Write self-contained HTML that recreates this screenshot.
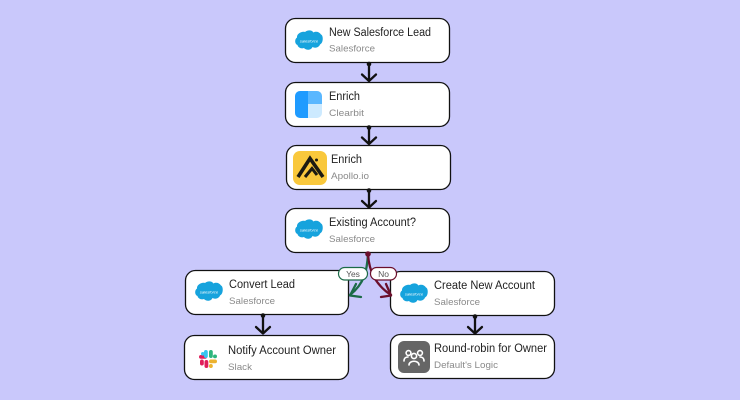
<!DOCTYPE html>
<html>
<head>
<meta charset="utf-8">
<style>
html,body{margin:0;padding:0;background:#c9c8fb;width:740px;height:400px;overflow:hidden}
svg{display:block}
text{font-family:"Liberation Sans",sans-serif}
.t{font-size:11.5px;fill:#222}
.s{font-size:9.5px;fill:#8a8a8a}
.b{fill:#fff;stroke:#111;stroke-width:1.300}
.c{fill:none;stroke:#111;stroke-width:2.300;stroke-linecap:round;stroke-linejoin:round}
.sf{font-size:4px;fill:#fff;font-style:italic}
</style>
</head>
<body>
<svg width="740" height="400" viewBox="0 0 740 400" xmlns="http://www.w3.org/2000/svg">
<defs>
<g id="cloud">
<path d="M-4 -9 C-1 -11.5 3 -11 4.5 -8.5 C7 -10 10.5 -9 12 -6.5 C14.5 -5.5 14.5 2 11 3.5 C10 6.500 6 7.500 3.500 6 C2 9.500 -3 9.500 -5 7 C-8 8 -11 6.500 -11.500 4 C-14.500 3 -14.500 -2 -12 -3.500 C-12.500 -7 -7.500 -10 -4 -9 Z" fill="#16a3dd"/>
<text x="0" y="1.500" text-anchor="middle" class="sf">salesforce</text>
</g>
</defs>
<rect width="740" height="400" fill="#c9c8fb"/>

<!-- nodes -->
<rect class="b" x="285.500" y="18.500" width="164" height="44" rx="10"/>
<rect class="b" x="285.500" y="82.500" width="164" height="44" rx="10"/>
<rect class="b" x="286.500" y="145.500" width="164" height="44" rx="10"/>
<rect class="b" x="285.500" y="208.500" width="164" height="44" rx="10"/>
<rect class="b" x="185.500" y="270.500" width="163" height="44" rx="10"/>
<rect class="b" x="184.500" y="335.500" width="164" height="44" rx="10"/>
<rect class="b" x="390.500" y="271.500" width="164" height="44" rx="10"/>
<rect class="b" x="390.500" y="334.500" width="164" height="44" rx="10"/>

<!-- connectors -->
<g class="c">
<path d="M369 63V80.500M362 74.500L369 81L376 74.500"/>
<path d="M369 127V144M362 137.500L369 144L376 137.500"/>
<path d="M369 190V207.500M362 201L369 207.500L376 201"/>
<path d="M263 315V333.500M256 327L263 333.500L270 327"/>
<path d="M475 316V333.500M468 327L475 333.500L482 327"/>
</g>
<circle cx="369" cy="64" r="2.300" fill="#111"/>
<circle cx="369" cy="127.500" r="2.300" fill="#111"/>
<circle cx="369" cy="190.500" r="2.300" fill="#111"/>
<circle cx="263" cy="315.500" r="2.300" fill="#111"/>
<circle cx="475" cy="316.500" r="2.300" fill="#111"/>

<!-- branch connectors -->
<path d="M368 254C367 270 365 283 350 295" fill="none" stroke="#1c6b48" stroke-width="2.300" stroke-linecap="round"/>
<path d="M356 284L350 295.500L361 297" fill="none" stroke="#1c6b48" stroke-width="2.300" stroke-linecap="round" stroke-linejoin="round"/>
<path d="M368 254C369 272 376 285 391 295" fill="none" stroke="#6b0f2c" stroke-width="2.300" stroke-linecap="round"/>
<path d="M381 297L391 295.500L386 284" fill="none" stroke="#6b0f2c" stroke-width="2.300" stroke-linecap="round" stroke-linejoin="round"/>
<circle cx="368" cy="254" r="2.800" fill="#6b0f2c"/>

<rect x="338.500" y="267.500" width="29" height="12.500" rx="6.200" fill="#fff" stroke="#1c6b48" stroke-width="1.200"/>
<text x="353" y="276.800" text-anchor="middle" font-size="8.500" fill="#555">Yes</text>
<rect x="370.500" y="267.500" width="26" height="12.500" rx="6.200" fill="#fff" stroke="#6b0f2c" stroke-width="1.200"/>
<text x="383.500" y="276.800" text-anchor="middle" font-size="8.500" fill="#555">No</text>

<!-- icons -->
<use href="#cloud" x="309" y="41"/>
<use href="#cloud" x="309" y="230"/>
<use href="#cloud" x="209" y="292"/>
<use href="#cloud" x="414" y="294"/>

<!-- clearbit -->
<rect x="295" y="91" width="27" height="27" rx="5" fill="#cdeaff"/>
<path d="M300 91H308V118H300A5 5 0 0 1 295 113V96A5 5 0 0 1 300 91Z" fill="#1f9bff"/>
<path d="M308 91H317A5 5 0 0 1 322 96V104H308Z" fill="#5ab7ff"/>

<!-- apollo -->
<rect x="293" y="151" width="34" height="34" rx="7" fill="#f9c83c"/>
<path d="M298 177L310 158.500L323 177" fill="none" stroke="#1b1a12" stroke-width="3.600" stroke-linejoin="miter"/>
<path d="M305 177L312 168.500L317 175" fill="none" stroke="#1b1a12" stroke-width="3"/>
<circle cx="316.500" cy="160" r="1.500" fill="#1b1a12"/>

<!-- slack -->
<g>
<rect x="199" y="355" width="8" height="3.800" rx="1.900" fill="#e01e5a"/>
<rect x="200" y="359.500" width="3.800" height="6" rx="1.900" fill="#e01e5a"/>
<rect x="204.500" y="360" width="3.800" height="8" rx="1.900" fill="#e01e5a"/>
<rect x="204" y="350" width="3.800" height="8" rx="1.900" fill="#36c5f0"/>
<rect x="201" y="352" width="3.600" height="3.600" rx="1.800" fill="#36c5f0"/>
<rect x="209" y="350" width="3.800" height="8" rx="1.900" fill="#2eb67d"/>
<rect x="213" y="354.500" width="4" height="3.800" rx="1.900" fill="#2eb67d"/>
<rect x="209" y="359.500" width="8" height="3.800" rx="1.900" fill="#ecb22e"/>
<rect x="209" y="364" width="3.800" height="4" rx="1.900" fill="#ecb22e"/>
</g>

<!-- default's logic -->
<rect x="398" y="341" width="32" height="32" rx="6" fill="#666"/>
<g fill="none" stroke="#fff" stroke-width="1.600" stroke-linecap="round">
<circle cx="408.500" cy="353" r="2.400"/>
<circle cx="420" cy="353" r="2.400"/>
<circle cx="414" cy="356" r="2.600"/>
<path d="M404 361C404 358 406 357 408 357"/>
<path d="M424 361C424 358 422 357 420 357"/>
<path d="M409 365C409 360 419 360 419 365"/>
</g>

<!-- labels -->
<text class="t" x="329" y="36" textLength="102" lengthAdjust="spacingAndGlyphs">New Salesforce Lead</text>
<text class="s" x="329" y="51.500" textLength="46" lengthAdjust="spacingAndGlyphs">Salesforce</text>

<text class="t" x="329" y="100" textLength="31" lengthAdjust="spacingAndGlyphs">Enrich</text>
<text class="s" x="329" y="116" textLength="35" lengthAdjust="spacingAndGlyphs">Clearbit</text>

<text class="t" x="331" y="163" textLength="31" lengthAdjust="spacingAndGlyphs">Enrich</text>
<text class="s" x="331" y="179" textLength="38" lengthAdjust="spacingAndGlyphs">Apollo.io</text>

<text class="t" x="329" y="226" textLength="87" lengthAdjust="spacingAndGlyphs">Existing Account?</text>
<text class="s" x="329" y="242" textLength="46" lengthAdjust="spacingAndGlyphs">Salesforce</text>

<text class="t" x="229" y="288" textLength="66" lengthAdjust="spacingAndGlyphs">Convert Lead</text>
<text class="s" x="229" y="304" textLength="46" lengthAdjust="spacingAndGlyphs">Salesforce</text>

<text class="t" x="228" y="354" textLength="108" lengthAdjust="spacingAndGlyphs">Notify Account Owner</text>
<text class="s" x="228" y="370" textLength="24" lengthAdjust="spacingAndGlyphs">Slack</text>

<text class="t" x="434" y="289" textLength="101" lengthAdjust="spacingAndGlyphs">Create New Account</text>
<text class="s" x="434" y="305" textLength="46" lengthAdjust="spacingAndGlyphs">Salesforce</text>

<text class="t" x="434" y="352" textLength="113" lengthAdjust="spacingAndGlyphs">Round-robin for Owner</text>
<text class="s" x="434" y="368" textLength="64" lengthAdjust="spacingAndGlyphs">Default's Logic</text>
</svg>
</body>
</html>
